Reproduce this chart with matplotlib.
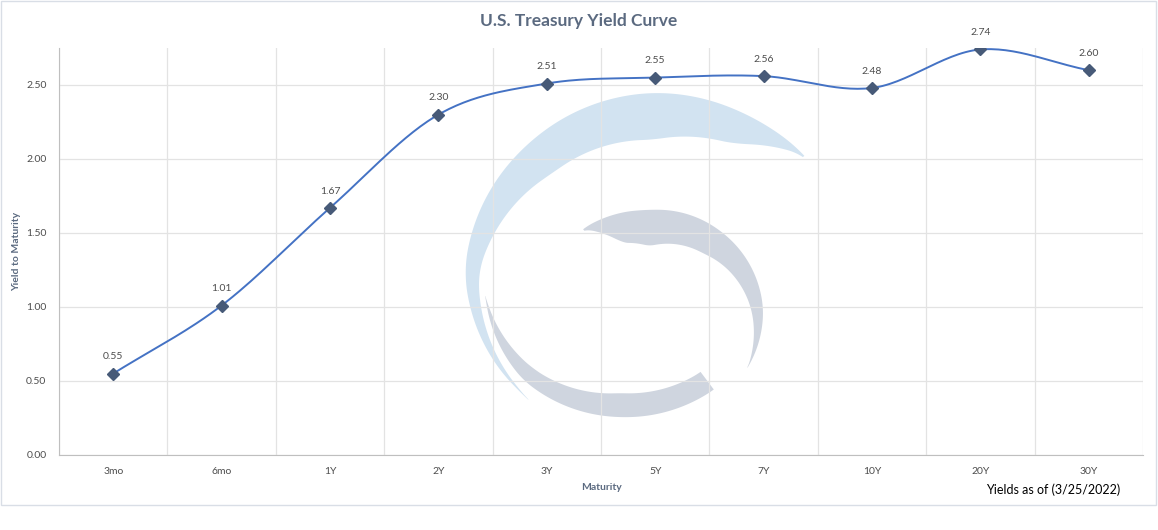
import numpy as np
import matplotlib
matplotlib.use("Agg")
import matplotlib.pyplot as plt
from matplotlib.patches import Polygon, Rectangle

# data
maturities = ["3mo", "6mo", "1Y", "2Y", "3Y", "5Y", "7Y", "10Y", "20Y", "30Y"]
yields = [0.55, 1.01, 1.67, 2.30, 2.51, 2.55, 2.56, 2.48, 2.74, 2.60]
y_ticks = [0.0, 0.5, 1.0, 1.5, 2.0, 2.5]

plt.rcParams['font.family'] = ['Lato', 'DejaVu Sans']

LINE = "#4472c4"
MARK = "#475a78"
TXT = "#4d4d4d"
TITLE = "#5b6a80"
GRID = "#e3e3e3"


# Catmull-Rom smoothing, like Excel's "smoothed line"
def smooth(xs, ys, n=30):
    xs = np.asarray(xs, float)
    ys = np.asarray(ys, float)
    px = np.concatenate([[2 * xs[0] - xs[1]], xs, [2 * xs[-1] - xs[-2]]])
    py = np.concatenate([[2 * ys[0] - ys[1]], ys, [2 * ys[-1] - ys[-2]]])
    out_x, out_y = [], []
    t = np.linspace(0, 1, n, endpoint=False)
    for i in range(1, len(px) - 2):
        for p, out in ((px, out_x), (py, out_y)):
            p0, p1, p2, p3 = p[i - 1], p[i], p[i + 1], p[i + 2]
            v = 0.5 * ((2 * p1) + (-p0 + p2) * t + (2 * p0 - 5 * p1 + 4 * p2 - p3) * t ** 2
                       + (-p0 + 3 * p1 - 3 * p2 + p3) * t ** 3)
            out.extend(v)
    out_x.append(xs[-1])
    out_y.append(ys[-1])
    return np.array(out_x), np.array(out_y)


def soften(v, k=25):
    pad = np.concatenate([np.full(k, v[0]), v, np.full(k, v[-1])])
    return np.convolve(pad, np.ones(k) / k, mode="same")[k:-k]


# crescent band for the watermark logo (pixel coords)
def band(ax, cx, cy, phis, radii, widths, color):
    phis = np.asarray(phis, float)
    order = np.argsort(phis)
    ph = np.linspace(phis.min(), phis.max(), 300)
    r = soften(np.interp(ph, phis[order], np.asarray(radii, float)[order]))
    w = soften(np.interp(ph, phis[order], np.asarray(widths, float)[order]), 15)
    w = np.clip(w, 0, None)
    a = np.radians(ph)
    ox, oy = cx + r * np.cos(a), cy - r * np.sin(a)
    ix, iy = cx + (r - w) * np.cos(a), cy - (r - w) * np.sin(a)
    pts = np.column_stack([np.concatenate([ox, ix[::-1]]), np.concatenate([oy, iy[::-1]])])
    ax.add_patch(Polygon(pts, closed=True, facecolor=color, edgecolor="none"))


fig = plt.figure(figsize=(11.58, 5.30), dpi=100)

# background layer: frame + watermark
wm = fig.add_axes([0, 0, 1, 1], zorder=0)
wm.set_xlim(0, 1158)
wm.set_ylim(530, 0)
wm.axis("off")
wm.add_patch(Rectangle((0.5, 0.5), 1155, 504, fill=False, edgecolor="#d9dee6", linewidth=1))
band(wm, 650, 290, [41, 60, 89, 130, 174, 222], [205, 200, 197, 190, 186, 163],
     [0, 32, 47, 38, 14, 0], "#d2e3f1")
band(wm, 655, 312, [131, 115, 95, 50, 2, -31], [110, 106, 102, 104, 108, 108],
     [0, 30, 36, 28, 12, 0], "#cfd5df")
band(wm, 620, 265, [193, 230, 270, 307], [138, 150, 152, 156],
     [0, 15, 24, 22], "#cfd5df")

ax = fig.add_axes([59 / 1158, 1 - 455 / 530, (1143 - 59) / 1158, (455 - 48) / 530], zorder=1)
ax.set_facecolor("none")

x = np.arange(len(maturities))
sx, sy = smooth(x, yields)
ax.plot(sx, sy, color=LINE, linewidth=1.4, zorder=3)
ax.plot(x, yields, linestyle="none", marker="D", markersize=6, color=MARK, zorder=4)
for xi, yi in zip(x, yields):
    ax.annotate(f"{yi:.2f}", (xi, yi), xytext=(0, 12), textcoords="offset points",
                ha="center", va="center", fontsize=7.5, color=TXT)

ax.set_xlim(-0.5, len(maturities) - 0.5)
ax.set_ylim(0, 2.75)
ax.set_xticks(x)
ax.set_xticklabels(maturities)
ax.set_yticks(y_ticks)
ax.set_yticklabels([f"{v:.2f}" for v in y_ticks])
ax.tick_params(length=0, labelsize=7.5, labelcolor=TXT, pad=9)
ax.set_xticks(np.arange(-0.5, len(maturities)), minor=True)
ax.tick_params(which="minor", length=0)
ax.grid(True, axis="y", which="major", color=GRID, linewidth=0.9)
ax.grid(True, axis="x", which="minor", color=GRID, linewidth=0.9)
ax.set_axisbelow(True)
for s in ["top", "right"]:
    ax.spines[s].set_visible(False)
for s in ["left", "bottom"]:
    ax.spines[s].set_color("#bfbfbf")

ax.set_xlabel("Maturity", fontsize=7.5, fontweight="bold", color=TITLE, labelpad=5)
ax.set_ylabel("Yield to Maturity", fontsize=7.5, fontweight="bold", color=TITLE)
ax.yaxis.set_label_coords((21 - 59) / 1084, 0.5)

fig.text(0.5, 1 - 21 / 530, "U.S. Treasury Yield Curve", ha="center", va="center",
         fontsize=12.5, fontweight="bold", color=TITLE)
fig.text(1120 / 1158, 1 - 490 / 530, "Yields as of (3/25/2022)", ha="right", va="center",
         fontsize=9, color="black")

fig.savefig("out.png", dpi=100)
